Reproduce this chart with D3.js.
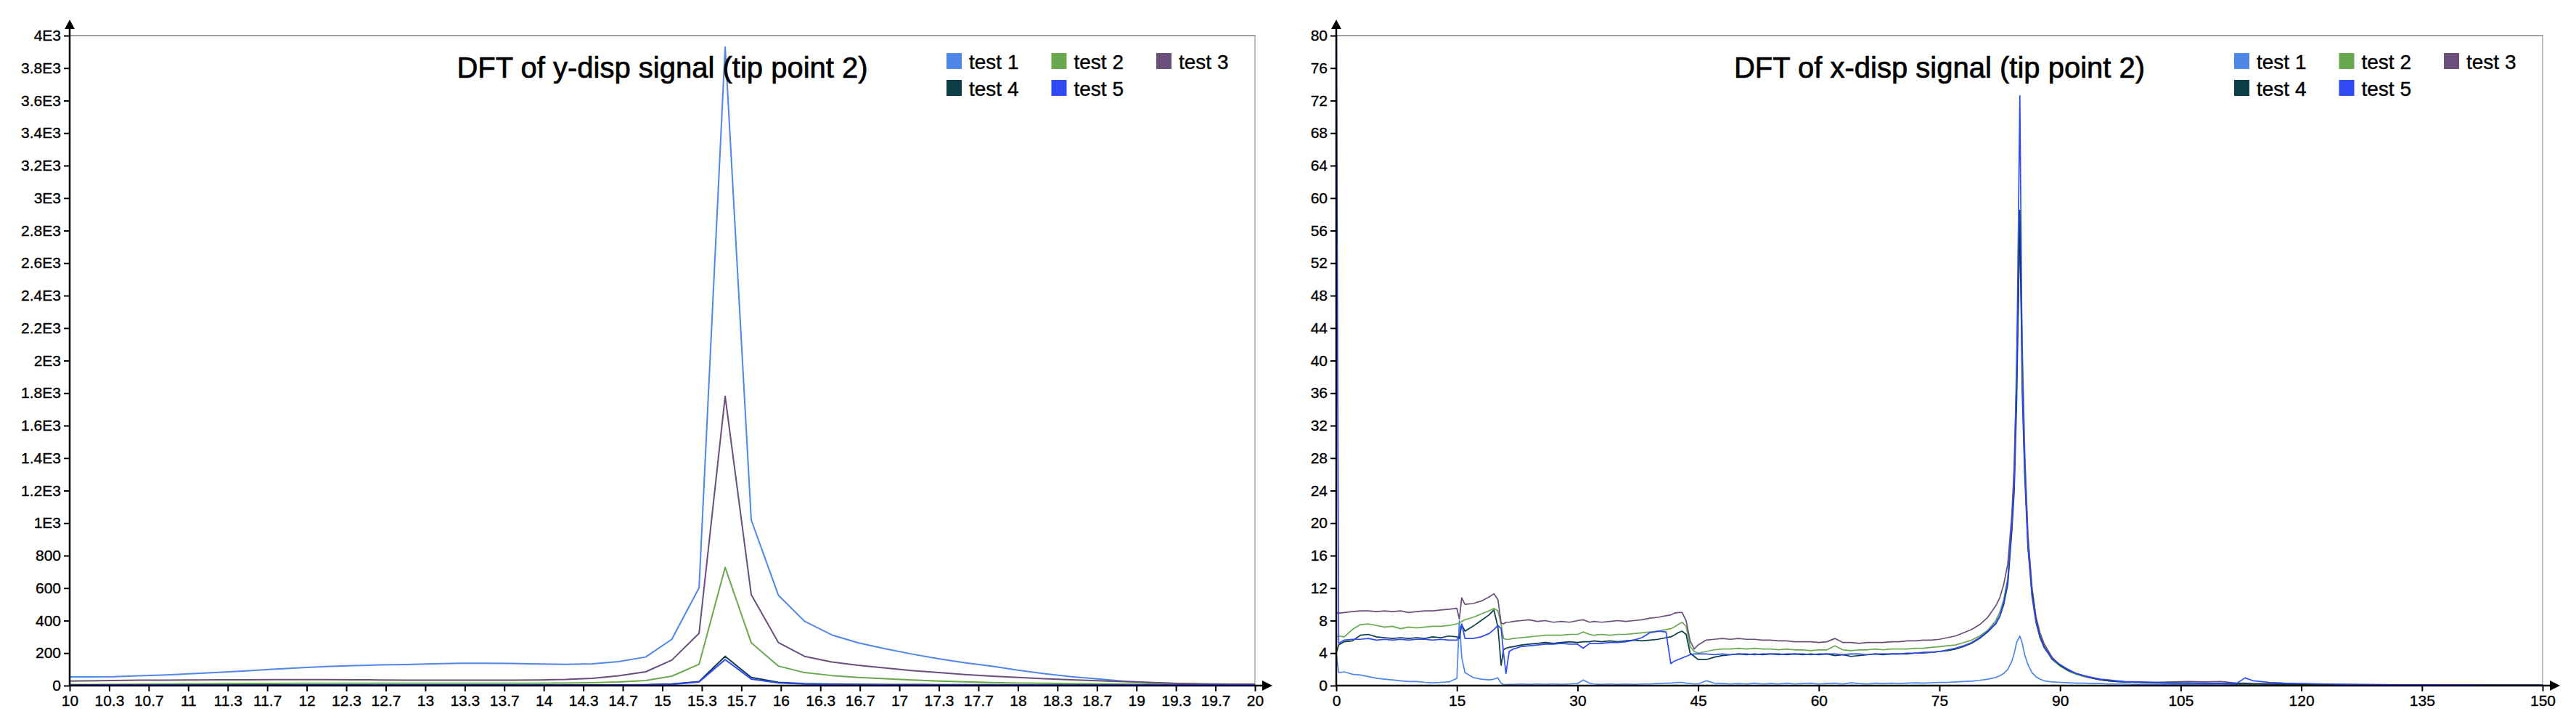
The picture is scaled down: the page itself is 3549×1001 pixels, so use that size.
<!DOCTYPE html>
<html><head><meta charset="utf-8">
<script src="https://cdn.jsdelivr.net/npm/d3@7"></script>
<style>
body{margin:0;background:#fff;}
svg{display:block;}
text{font-family:"Liberation Sans",Arial,sans-serif;fill:#000;}
</style>
</head><body>
<svg id="chart" width="3549" height="1001"></svg>
<script>
// ---------- shared ----------
const seriesNames = ["test 1","test 2","test 3","test 4","test 5"];
const seriesColors = ["#4f87e8","#6aa84f","#6a4f7b","#0a3d45","#2f4af5"];

// ---------- left chart: DFT of y-disp ----------
const leftTitle = "DFT of y-disp signal (tip point 2)";
const yFreq = [9.92,10.14,10.37,10.59,10.82,11.04,11.26,11.49,11.71,11.94,
  12.16,12.39,12.61,12.84,13.06,13.29,13.51,13.73,13.96,14.18,
  14.41,14.63,14.86,15.08,15.31,15.53,15.75,15.98,16.20,16.43,
  16.65,16.88,17.10,17.33,17.55,17.78,18.00,18.22,18.45,18.67,
  18.90,19.12,19.35,19.57,19.80,20.02];
const yTest1 = [53,54,55,60,66,74,82,91,101,110, 117,123,127,130,134,137,137,136,133,131,
  134,147,176,285,602,3930,1019,555,396,312, 264,227,195,165,141,120,95,74,55,41, 27,19,12,10,9,9];
const yTest2 = [6,7,8,9,10,11,12,13,13,14, 14,14,14,14,14,14,14,14,15,16,
  18,22,31,58,131,727,264,120,80,62, 50,42,35,28,23,19,16,14,12,11, 10,9,8,8,7,7];
const yTest3 = [28,29,31,33,34,35,36,36,37,37, 37,36,35,34,34,34,34,34,35,38,
  45,60,85,157,322,1780,560,264,180,145, 125,108,93,80,68,58,50,42,36,30, 25,19,13,10,9,9];
const yTest4 = [4,4,4,4,4,4,4,4,4,4, 4,4,4,4,4,4,4,4,4,4,
  5,5,6,10,25,180,50,20,12,9, 8,7,7,6,6,6,5,5,5,5, 5,5,5,5,5,5];
const yTest5 = [3,3,3,3,3,3,3,3,3,3, 3,3,3,3,3,3,3,3,3,3,
  3,4,5,8,22,160,40,17,10,7, 6,5,5,4,4,4,4,4,4,4, 4,4,4,4,4,4];
const leftXTickLabels = ["10","10.3","10.7","11","11.3","11.7","12","12.3","12.7","13","13.3","13.7",
  "14","14.3","14.7","15","15.3","15.7","16","16.3","16.7","17","17.3","17.7","18","18.3","18.7",
  "19","19.3","19.7","20"];
const leftYTicks = [0,200,400,600,800,1000,1200,1400,1600,1800,2000,2200,2400,2600,2800,3000,3200,3400,3600,3800,4000];
const leftYTickLabels = ["0","200","400","600","800","1E3","1.2E3","1.4E3","1.6E3","1.8E3","2E3","2.2E3",
  "2.4E3","2.6E3","2.8E3","3E3","3.2E3","3.4E3","3.6E3","3.8E3","4E3"];

// ---------- right chart: DFT of x-disp ----------
const rightTitle = "DFT of x-disp signal (tip point 2)";
const xFreq = [0,0.3,1,2,3,4,5,6,7,8,
  9,10,11,12,13,14,15,15.3,15.6,16,
  17,18,19,19.6,20.1,20.5,20.8,21.1,21.5,22,
  23,24,25,26,27,28,29,30,30.7,31.5,
  32,33,34,35,36,37,38,39,40,41,
  41.6,42,42.5,43,43.5,44,44.5,45,46,47,
  48,49,50,51,52,53,54,55,56,57,
  58,59,60,61,62,63,64,65,66,67,
  68,69,70,71,72,73,74,75,76,77,
  78,79,80,81,82,82.5,83,83.5,84,84.3,
  84.6,85,85.3,85.6,86,86.5,87,87.5,88,89,
  90,91,92,93,94,95,96,97,98,100,
  102,104,106,108,110,112,113,114,116,118,
  120,123,126,130,135,140,145,150];
const xTest1 = [4.0,1.6,1.7,1.4,1.3,1.1,0.9,0.8,0.7,0.6,
  0.5,0.5,0.4,0.35,0.4,0.45,0.9,8.0,3.5,1.6,
  1.0,0.8,0.7,0.8,0.95,0.3,0.15,0.12,0.15,0.15,
  0.2,0.15,0.2,0.15,0.2,0.15,0.2,0.25,0.7,0.3,
  0.2,0.15,0.2,0.15,0.2,0.15,0.2,0.2,0.25,0.3,
  0.3,0.35,0.4,0.4,0.3,0.25,0.2,0.2,0.6,0.3,
  0.25,0.2,0.25,0.2,0.3,0.2,0.25,0.2,0.3,0.2,
  0.25,0.3,0.2,0.25,0.3,0.2,0.35,0.25,0.2,0.3,
  0.25,0.3,0.25,0.3,0.35,0.3,0.35,0.4,0.4,0.45,
  0.5,0.55,0.65,0.8,1.0,1.2,1.5,2.0,3.0,4.0,
  5.3,6.1,5.2,3.8,2.6,1.6,1.1,0.8,0.6,0.45,
  0.4,0.35,0.3,0.3,0.25,0.25,0.2,0.2,0.2,0.15,
  0.15,0.15,0.12,0.12,0.12,0.1,0.1,0.1,0.1,0.08,
  0.08,0.08,0.06,0.06,0.05,0.05,0.04,0.04];
const xTest2 = [6.0,6.1,6.0,6.9,7.5,7.6,7.4,7.2,7.3,7.0,
  7.2,7.1,7.2,7.3,7.3,7.4,7.6,7.7,7.9,8.1,
  8.4,8.8,9.2,9.5,9.2,7.5,5.8,5.7,5.7,5.8,
  5.9,6.0,6.1,6.2,6.2,6.2,6.3,6.3,6.6,6.3,
  6.2,6.3,6.2,6.3,6.3,6.4,6.5,6.6,6.7,6.9,
  7.0,7.2,7.5,7.8,7.3,4.8,4.2,4.0,4.2,4.4,
  4.5,4.5,4.6,4.5,4.6,4.5,4.5,4.4,4.5,4.4,
  4.4,4.3,4.4,4.4,4.9,4.4,4.3,4.4,4.4,4.5,
  4.4,4.5,4.5,4.5,4.6,4.6,4.7,4.8,4.9,5.0,
  5.3,5.6,6.1,6.8,8.0,9.0,10.6,13.2,19.5,27,
  40,57,42,29,18.5,12.2,8.3,6.2,4.9,3.2,
  2.4,1.8,1.4,1.1,0.9,0.75,0.6,0.5,0.45,0.4,
  0.35,0.3,0.3,0.28,0.25,0.25,0.22,0.2,0.2,0.18,
  0.15,0.15,0.12,0.1,0.08,0.07,0.06,0.05];
const xTest3 = [9.0,8.9,9.0,9.1,9.2,9.2,9.1,9.2,9.1,9.2,
  9.0,9.1,9.2,9.2,9.3,9.4,9.5,8.2,10.8,10.0,
  10.1,10.4,10.9,11.3,10.6,7.7,7.6,7.8,7.8,7.9,
  8.0,8.1,7.9,8.0,7.8,7.9,7.8,8.0,8.1,7.8,
  7.9,7.8,7.9,8.0,7.9,8.0,8.1,8.3,8.4,8.6,
  8.7,8.9,9.0,9.0,8.0,5.5,4.5,5.0,5.6,5.7,
  5.8,5.7,5.8,5.7,5.7,5.6,5.6,5.5,5.5,5.4,
  5.4,5.4,5.3,5.4,5.8,5.3,5.3,5.2,5.3,5.3,
  5.3,5.4,5.4,5.5,5.5,5.6,5.6,5.7,5.9,6.1,
  6.5,6.9,7.5,8.4,9.8,10.8,12.5,15,21,27,
  38,56,40,28,18.5,12,8.5,6.5,5.2,3.5,
  2.5,1.9,1.5,1.2,0.9,0.7,0.6,0.55,0.45,0.4,
  0.4,0.45,0.5,0.45,0.5,0.3,0.3,0.25,0.25,0.2,
  0.2,0.15,0.12,0.1,0.08,0.07,0.06,0.05];
const xTest4 = [4.0,5.0,5.4,5.5,6.2,6.3,6.0,5.9,5.8,5.9,
  5.8,5.9,5.8,6.0,5.9,6.1,6.0,5.8,7.5,6.7,
  7.3,8.0,8.7,9.3,7.2,2.5,4.4,4.6,4.7,4.8,
  5.0,5.1,5.2,5.3,5.2,5.3,5.4,5.3,5.4,5.4,
  5.5,5.4,5.5,5.4,5.5,5.6,5.5,5.6,5.7,5.9,
  6.0,6.2,6.5,6.7,6.3,4.0,3.6,3.2,3.2,3.5,
  3.7,3.8,3.9,3.8,3.9,3.8,3.9,3.9,3.8,3.9,
  3.8,3.9,3.8,3.9,3.7,3.8,3.6,3.7,3.8,3.9,
  3.8,3.9,3.9,3.9,4.0,4.0,4.1,4.2,4.3,4.5,
  4.8,5.2,5.8,6.6,7.6,8.5,10.0,12.5,19,24,
  35,58.5,36,26,17,11.5,8.0,6.0,4.8,3.3,
  2.5,1.9,1.5,1.2,0.95,0.75,0.6,0.5,0.45,0.4,
  0.35,0.3,0.3,0.28,0.25,0.22,0.22,0.2,0.18,0.16,
  0.15,0.12,0.1,0.08,0.07,0.06,0.05,0.05];
const xTest5 = [90,5.2,5.6,5.7,5.7,5.8,5.6,5.7,5.6,5.7,
  5.6,5.7,5.7,5.6,5.7,5.6,5.6,6.2,7.6,5.8,
  5.8,6.0,6.4,6.9,7.4,7.0,4.0,1.5,4.2,4.5,
  4.8,4.9,5.0,5.1,5.1,5.2,5.1,5.1,4.6,5.2,
  5.2,5.2,5.3,5.3,5.4,5.6,5.9,6.5,6.7,6.6,
  2.7,3.0,3.2,3.4,3.6,3.8,3.9,3.9,3.9,3.8,
  3.9,3.8,3.9,3.9,3.8,3.9,3.9,3.8,3.9,3.9,
  3.9,3.8,3.9,3.9,3.9,3.8,3.9,3.9,3.8,3.9,
  3.9,3.9,3.9,4.0,4.0,4.1,4.1,4.2,4.4,4.6,
  4.9,5.3,5.9,6.7,7.7,8.6,10.3,13,20,25,
  38,72.6,38,27,17.5,11,7.8,5.9,4.7,3.3,
  2.6,2.0,1.5,1.2,1.0,0.8,0.7,0.6,0.5,0.45,
  0.4,0.35,0.3,0.3,0.28,0.3,0.95,0.6,0.4,0.3,
  0.25,0.2,0.15,0.12,0.1,0.08,0.06,0.05];
const rightXTicks = [0,15,30,45,60,75,90,105,120,135,150];
const rightXTickLabels = ["0","15","30","45","60","75","90","105","120","135","150"];
const rightYTicks = [0,4,8,12,16,20,24,28,32,36,40,44,48,52,56,60,64,68,72,76,80];
const rightYTickLabels = rightYTicks.map(String);

// ---------- drawing ----------
const svg = d3.select("#chart");
svg.append("rect").attr("width",3549).attr("height",1001).attr("fill","#fff");

function drawChart(cfg){
  const {x0,x1,yTop,yBot,xDomain,yDomain,xTicks,xTickLabels,yTicks,yTickLabels,title,xs,series,lw,id} = cfg;
  const x = d3.scaleLinear().domain(xDomain).range([x0,x1]);
  const y = d3.scaleLinear().domain(yDomain).range([yBot,yTop]);
  const g = svg.append("g");

  // frame
  g.append("line").attr("x1",x0).attr("x2",x1+1).attr("y1",yTop).attr("y2",yTop)
    .attr("stroke","#a0a0a0").attr("stroke-width",2);
  g.append("line").attr("x1",x1).attr("x2",x1).attr("y1",yTop).attr("y2",yBot)
    .attr("stroke","#a8a8a8").attr("stroke-width",1.5);

  // clip
  svg.append("clipPath").attr("id",id).append("rect")
    .attr("x",x0).attr("y",yTop).attr("width",x1-x0).attr("height",yBot-yTop);

  // series
  const line = d3.line().x((d,i)=>x(xs[i])).y(d=>y(d));
  const lg = g.append("g").attr("clip-path",`url(#${id})`);
  series.forEach((s,i)=>{
    lg.append("path").attr("d",line(s)).attr("fill","none")
      .attr("stroke",seriesColors[i]).attr("stroke-width",lw)
      .attr("stroke-linejoin","round");
  });

  // axes
  const xAxis = d3.axisBottom(x).tickValues(xTicks).tickFormat((d,i)=>xTickLabels[i])
    .tickSize(8).tickSizeOuter(0).tickPadding(5);
  const ax = g.append("g").attr("transform",`translate(0,${yBot})`).call(xAxis);
  const yAxis = d3.axisLeft(y).tickValues(yTicks).tickFormat((d,i)=>yTickLabels[i])
    .tickSize(8).tickSizeOuter(0).tickPadding(4);
  const ay = g.append("g").attr("transform",`translate(${x0},0)`).call(yAxis);
  [ax,ay].forEach(a=>{
    a.select(".domain").remove();
    a.selectAll(".tick line").attr("stroke","#000").attr("stroke-width",2);
    a.selectAll(".tick text").attr("font-size",21).attr("fill","#000")
      .attr("stroke","#000").attr("stroke-width",0.35)
      .style("font-family",'"Liberation Sans",Arial,sans-serif');
  });

  // axis lines with arrows
  g.append("line").attr("x1",x0).attr("x2",x1+14).attr("y1",yBot).attr("y2",yBot)
    .attr("stroke","#000").attr("stroke-width",2.5);
  g.append("path").attr("d",`M${x1+24},${yBot} L${x1+10},${yBot-7} L${x1+10},${yBot+7} Z`).attr("fill","#000");
  g.append("line").attr("x1",x0).attr("x2",x0).attr("y1",yBot).attr("y2",yTop-12)
    .attr("stroke","#000").attr("stroke-width",2.5);
  g.append("path").attr("d",`M${x0},${yTop-22} L${x0-7},${yTop-9} L${x0+7},${yTop-9} Z`).attr("fill","#000");

  // title
  g.append("text").attr("x",(x0+x1)/2).attr("y",107).attr("text-anchor","middle")
    .attr("font-size",40).attr("stroke","#000").attr("stroke-width",0.7).text(title);

  // legend
  const lx = x1 - 425;
  seriesNames.forEach((n,i)=>{
    const col = i<3 ? i : i-3, row = i<3 ? 0 : 1;
    const sx = lx + col*144.5, sy = 73 + row*37;
    g.append("rect").attr("x",sx).attr("y",sy).attr("width",21).attr("height",22).attr("fill",seriesColors[i]);
    g.append("text").attr("x",sx+31).attr("y",sy+22).attr("font-size",28)
      .attr("stroke","#000").attr("stroke-width",0.4).text(n);
  });
}

drawChart({
  id:"clipL", x0:96, x1:1729, yTop:49, yBot:944,
  xDomain:[10,20], yDomain:[0,4000],
  xTicks:d3.range(31).map(i=>10+i/3), xTickLabels:leftXTickLabels,
  yTicks:leftYTicks, yTickLabels:leftYTickLabels,
  title:leftTitle, xs:yFreq, series:[yTest1,yTest2,yTest3,yTest4,yTest5], lw:2
});
drawChart({
  id:"clipR", x0:1841, x1:3503, yTop:49, yBot:944,
  xDomain:[0,150], yDomain:[0,80],
  xTicks:rightXTicks, xTickLabels:rightXTickLabels,
  yTicks:rightYTicks, yTickLabels:rightYTickLabels,
  title:rightTitle, xs:xFreq, series:[xTest1,xTest2,xTest3,xTest4,xTest5], lw:1.7
});
</script>
</body></html>
